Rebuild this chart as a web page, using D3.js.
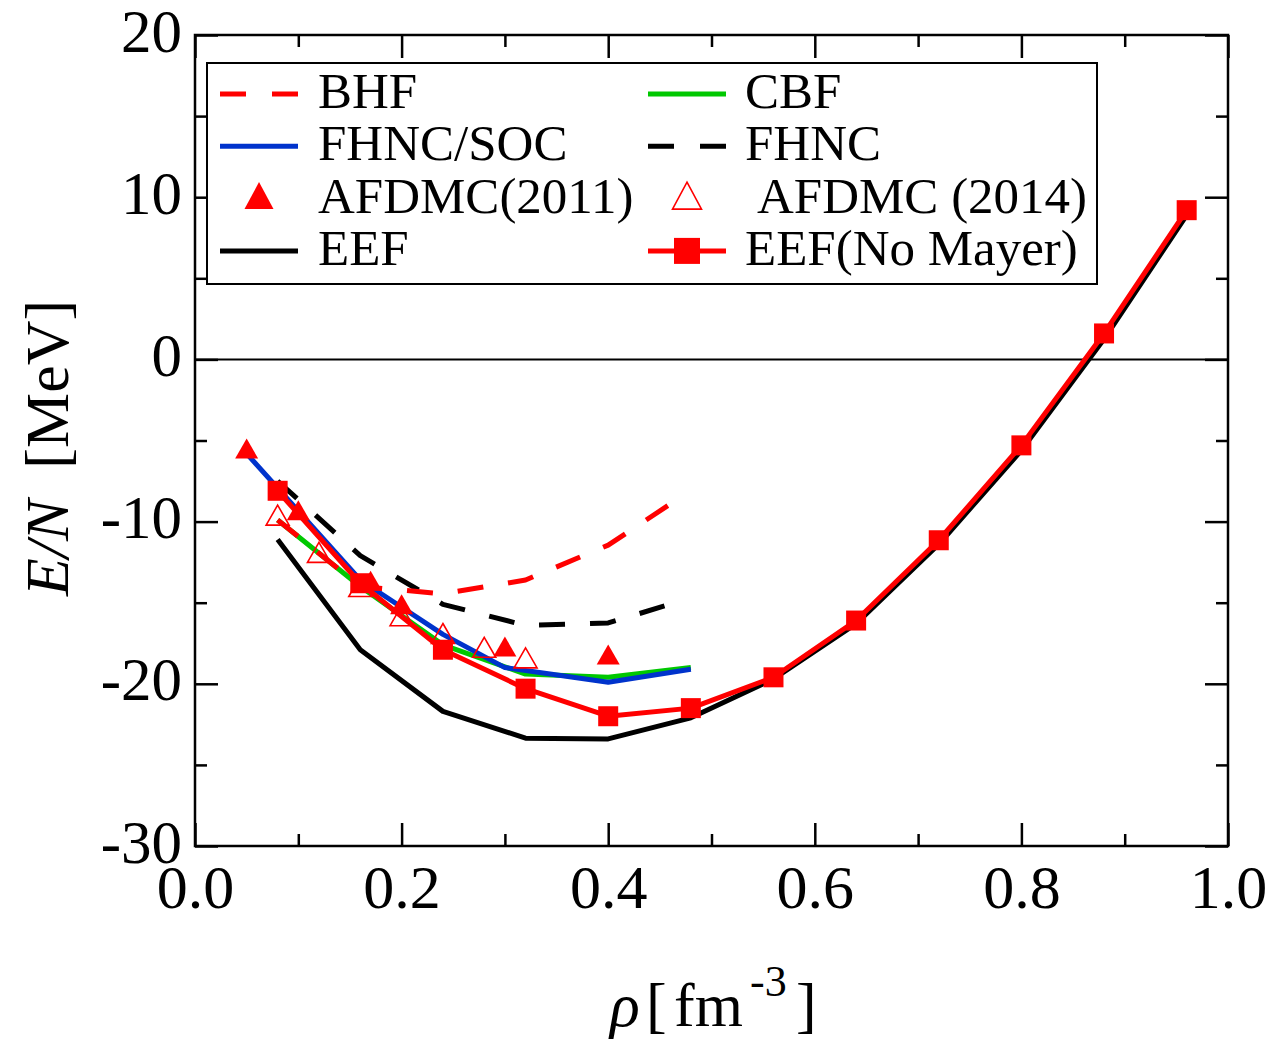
<!DOCTYPE html>
<html>
<head>
<meta charset="utf-8">
<script src="https://cdn.jsdelivr.net/npm/d3@7"></script>
<style>
  html, body { margin: 0; padding: 0; background: #fff; }
  svg { display: block; font-family: "Liberation Serif", "Times New Roman", serif; }
</style>
</head>
<body>
<svg id="chart" width="1269" height="1040"></svg>
<script>
// ======================================================================
// DATA
// ======================================================================
const bhfRho   = [0.08, 0.16, 0.24, 0.32, 0.40, 0.47];
const bhfE     = [-9.9, -14.0, -14.45, -13.6, -11.45, -8.5];

const cbfRho   = [0.08, 0.16, 0.24, 0.32, 0.40, 0.48];
const cbfE     = [-9.9, -14.0, -17.6, -19.4, -19.6, -19.0];

const socRho   = [0.05, 0.16, 0.24, 0.30, 0.40, 0.48];
const socE     = [-5.8, -13.6, -16.95, -19.0, -19.9, -19.1];

const fhncRho  = [0.08, 0.16, 0.24, 0.32, 0.40, 0.465];
const fhncE    = [-7.5, -12.1, -15.1, -16.4, -16.25, -15.0];

const afdmc11Rho = [0.05, 0.10, 0.17, 0.20, 0.30, 0.40];
const afdmc11E   = [-5.5, -9.3, -13.65, -15.1, -17.7, -18.2];

const afdmc14Rho = [0.08, 0.12, 0.16, 0.20, 0.24, 0.28, 0.32];
const afdmc14E   = [-9.6, -11.9, -14.0, -15.8, -16.9, -17.75, -18.4];

const eefRho   = [0.08, 0.16, 0.24, 0.32, 0.40, 0.48, 0.56, 0.64, 0.72, 0.80, 0.88, 0.96];
const eefE     = [-11.1, -17.9, -21.7, -23.35, -23.4, -22.1, -19.7, -16.3, -11.4, -5.6, 1.25, 8.9];
const eefNmE   = [-8.1, -13.8, -17.9, -20.3, -22.0, -21.5, -19.6, -16.1, -11.15, -5.3, 1.6, 9.2];

const xMajor = [0, 0.2, 0.4, 0.6, 0.8, 1.0];
const xMinor = [0.1, 0.3, 0.5, 0.7, 0.9];
const yMajor = [-30, -20, -10, 0, 10, 20];
const yMinor = [-25, -15, -5, 5, 15];

const RED = "#ff0000", BLUE = "#0033cc", GREEN = "#00c800", BLACK = "#000";

// ======================================================================
// SCALES
// ======================================================================
const L = 195, R = 1228, T = 35, B = 846;
const x = d3.scaleLinear().domain([0, 1]).range([L, R]);
const y = d3.scaleLinear().domain([-30, 20]).range([B, T]);

const svg = d3.select("#chart");
const zip = (xs, ys) => xs.map((v, i) => [v, ys[i]]);
const line = d3.line().x(d => x(d[0])).y(d => y(d[1]));

// ======================================================================
// AXES (ticks inward on all four sides)
// ======================================================================
function drawAxis(axisFn, pos, transform, values, size, labels) {
  const ax = axisFn(pos).tickValues(values).tickSize(-size)
    .tickFormat(labels ? (d => labels === "x" ? d3.format(".1f")(d) : d) : "");
  const g = svg.append("g").attr("transform", transform).call(ax);
  g.select(".domain").remove();
  g.selectAll("line").attr("stroke", BLACK).attr("stroke-width", 2.5);
  return g;
}

const gxb = drawAxis(d3.axisBottom, x, `translate(0,${B})`, xMajor, 23, "x");
drawAxis(d3.axisBottom, x, `translate(0,${B})`, xMinor, 12, null);
drawAxis(d3.axisTop, x, `translate(0,${T})`, xMajor, 23, null);
drawAxis(d3.axisTop, x, `translate(0,${T})`, xMinor, 12, null);
const gyl = drawAxis(d3.axisLeft, y, `translate(${L},0)`, yMajor, 23, "y");
drawAxis(d3.axisLeft, y, `translate(${L},0)`, yMinor, 12, null);
drawAxis(d3.axisRight, y, `translate(${R},0)`, yMajor, 23, null);
drawAxis(d3.axisRight, y, `translate(${R},0)`, yMinor, 12, null);

gxb.selectAll("text")
  .attr("y", 62).attr("dy", 0)
  .attr("font-size", 62).attr("font-family", "Liberation Serif").attr("fill", BLACK);
gyl.selectAll("text")
  .attr("x", -13).attr("dy", 0).attr("y", 16)
  .attr("font-size", 61).attr("font-family", "Liberation Serif").attr("fill", BLACK);

// frame
svg.append("rect")
  .attr("x", L).attr("y", T).attr("width", R - L).attr("height", B - T)
  .attr("fill", "none").attr("stroke", BLACK).attr("stroke-width", 2.5);

// zero line
svg.append("line")
  .attr("x1", L).attr("x2", R).attr("y1", y(0)).attr("y2", y(0))
  .attr("stroke", BLACK).attr("stroke-width", 2);

// ======================================================================
// SERIES
// ======================================================================
function drawLine(data, color, dash) {
  svg.append("path")
    .attr("d", line(data))
    .attr("fill", "none")
    .attr("stroke", color)
    .attr("stroke-width", 5)
    .attr("stroke-linejoin", "round")
    .attr("stroke-dasharray", dash || null);
}

const tri = (w, h) => `M0,${-h / 2}L${w / 2},${h / 2}L${-w / 2},${h / 2}Z`;

drawLine(zip(cbfRho, cbfE), GREEN);
drawLine(zip(socRho, socE), BLUE);
drawLine(zip(fhncRho, fhncE), BLACK, "26,25");
drawLine(zip(bhfRho, bhfE), RED, "26,25");
drawLine(zip(eefRho, eefE), BLACK);
drawLine(zip(eefRho, eefNmE), RED);

svg.append("g").selectAll("rect")
  .data(zip(eefRho, eefNmE))
  .enter().append("rect")
  .attr("x", d => x(d[0]) - 10).attr("y", d => y(d[1]) - 10)
  .attr("width", 20).attr("height", 20)
  .attr("fill", RED);

svg.append("g").selectAll("path")
  .data(zip(afdmc14Rho, afdmc14E))
  .enter().append("path")
  .attr("d", tri(23, 20))
  .attr("transform", d => `translate(${x(d[0])},${y(d[1])})`)
  .attr("fill", "none").attr("stroke", RED).attr("stroke-width", 1.6);

svg.append("g").selectAll("path")
  .data(zip(afdmc11Rho, afdmc11E))
  .enter().append("path")
  .attr("d", tri(23, 20))
  .attr("transform", d => `translate(${x(d[0])},${y(d[1])})`)
  .attr("fill", RED);

// ======================================================================
// LEGEND
// ======================================================================
svg.append("rect")
  .attr("x", 207).attr("y", 63).attr("width", 890).attr("height", 221)
  .attr("fill", "#fff").attr("stroke", BLACK).attr("stroke-width", 2);

const legendItems = [
  { label: "BHF",            col: 0, row: 0, kind: "line", color: RED, dash: "26,26" },
  { label: "CBF",            col: 1, row: 0, kind: "line", color: GREEN },
  { label: "FHNC/SOC",       col: 0, row: 1, kind: "line", color: BLUE },
  { label: "FHNC",           col: 1, row: 1, kind: "line", color: BLACK, dash: "26,26" },
  { label: "AFDMC(2011)",    col: 0, row: 2, kind: "tri" },
  { label: "AFDMC (2014)",   col: 1, row: 2, kind: "otri", dx: 12 },
  { label: "EEF",            col: 0, row: 3, kind: "line", color: BLACK },
  { label: "EEF(No Mayer)",  col: 1, row: 3, kind: "sq" }
];
const colX = [[220, 298, 318], [648, 726, 745]];
const rowY = r => 94 + r * 52.3;

legendItems.forEach(it => {
  const [x0, x1, tx] = colX[it.col];
  const cy = rowY(it.row);
  const cx = (x0 + x1) / 2;
  if (it.kind === "line" || it.kind === "sq") {
    svg.append("line")
      .attr("x1", x0).attr("x2", x1).attr("y1", cy).attr("y2", cy)
      .attr("stroke", it.color || RED).attr("stroke-width", 5)
      .attr("stroke-dasharray", it.dash || null);
  }
  if (it.kind === "sq") {
    svg.append("rect").attr("x", cx - 13).attr("y", cy - 13)
      .attr("width", 26).attr("height", 26).attr("fill", RED);
  }
  if (it.kind === "tri" || it.kind === "otri") {
    svg.append("path").attr("d", tri(29, 27))
      .attr("transform", `translate(${cx},${cy - 3})`)
      .attr("fill", it.kind === "tri" ? RED : "none")
      .attr("stroke", it.kind === "otri" ? RED : "none")
      .attr("stroke-width", 1.6);
  }
  svg.append("text")
    .attr("x", tx + (it.dx || 0)).attr("y", cy + 14)
    .attr("font-size", 51).attr("fill", BLACK)
    .text(it.label);
});

// ======================================================================
// AXIS TITLES
// ======================================================================
const xt = svg.append("text").attr("y", 1026).attr("font-size", 62).attr("fill", BLACK);
xt.append("tspan").attr("x", 610).attr("font-style", "italic").text("ρ");
xt.append("tspan").attr("x", 646).text("[");
xt.append("tspan").attr("x", 674).text("fm");
xt.append("tspan").attr("x", 750).attr("dy", -30).attr("font-size", 44).text("-3");
xt.append("tspan").attr("x", 796).attr("dy", 30).text("]");

const yt = svg.append("text")
  .attr("transform", "translate(68,448) rotate(-90)")
  .attr("text-anchor", "middle")
  .attr("font-size", 62).attr("fill", BLACK)
  .style("white-space", "pre");
yt.append("tspan").attr("font-style", "italic").text("E/N");
yt.append("tspan").text("  [MeV]");
</script>
</body>
</html>
